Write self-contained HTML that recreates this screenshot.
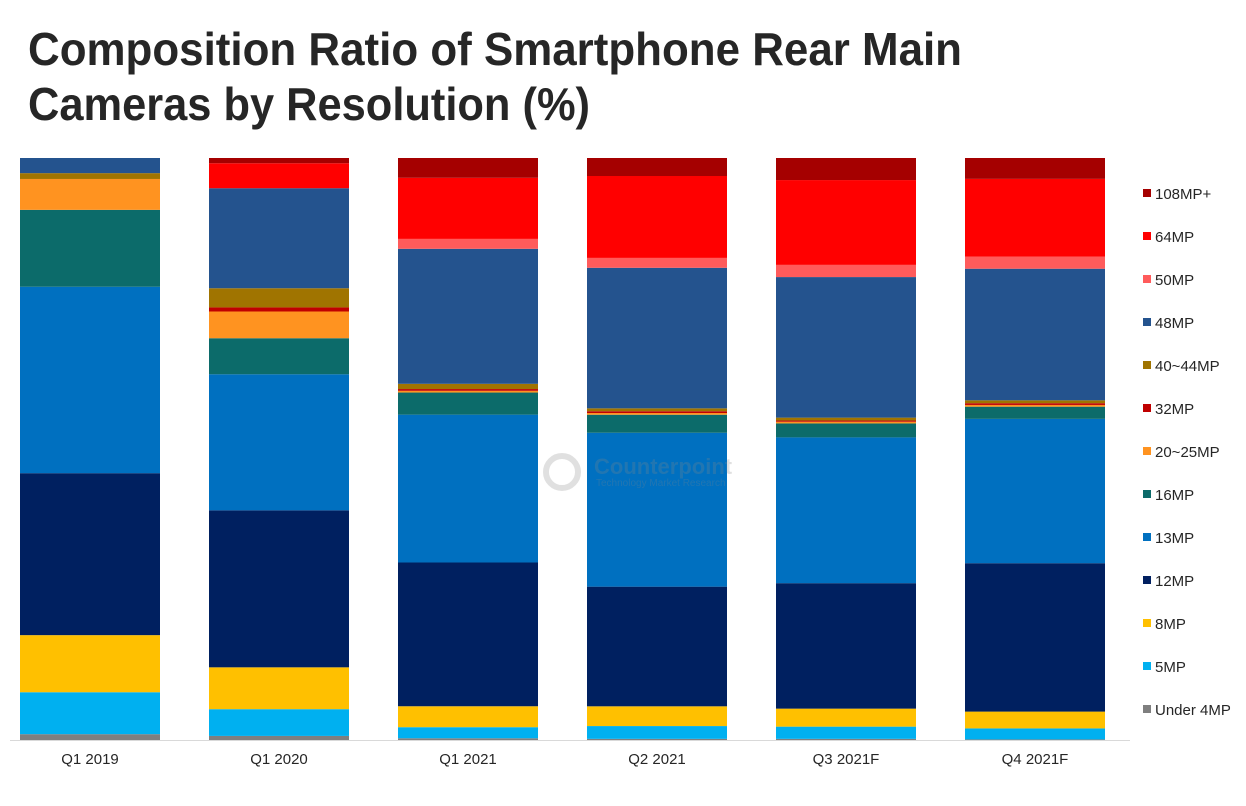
<!DOCTYPE html>
<html><head><meta charset="utf-8"><style>
html,body{margin:0;padding:0;background:#fff;}
svg{display:block;font-family:"Liberation Sans",Arial,sans-serif;}
</style></head><body>
<svg id="chart" width="1246" height="806" viewBox="0 0 1246 806">
<text x="28" y="65" font-size="46" font-weight="bold" fill="#262626" textLength="934" lengthAdjust="spacingAndGlyphs">Composition Ratio of Smartphone Rear Main</text>
<text x="28" y="120" font-size="46" font-weight="bold" fill="#262626" textLength="562" lengthAdjust="spacingAndGlyphs">Cameras by Resolution (%)</text>
<g id="bars"></g>
<line x1="10" y1="740.5" x2="1130" y2="740.5" stroke="#d9d9d9" stroke-width="1"/>
<g opacity="0.25">
<circle cx="562" cy="472" r="16" fill="none" stroke="#888" stroke-width="6"/>
<text x="594" y="474" font-size="22" font-weight="bold" fill="#888">Counterpoint</text>
<text x="596" y="486" font-size="10" fill="#888">Technology Market Research</text>
</g>
<g id="xlabels"></g>
<g id="legend"></g>
</svg>
<script>
const categories = ["Q1 2019","Q1 2020","Q1 2021","Q2 2021","Q3 2021F","Q4 2021F"];
const seriesNames = ["Under 4MP","5MP","8MP","12MP","13MP","16MP","20~25MP","32MP","40~44MP","48MP","50MP","64MP","108MP+"];
const under4 = [1.0,0.7,0.3,0.2,0.2,0.1];
const mp5 = [7.2,4.6,1.9,2.2,2.1,1.9];
const mp8 = [9.8,7.2,3.6,3.4,3.1,2.9];
const mp12 = [27.8,27.0,24.7,20.6,21.6,25.6];
const mp13 = [32.0,23.4,25.4,26.5,25.1,24.9];
const mp16 = [13.2,6.2,3.8,3.1,2.4,2.1];
const mp20 = [5.3,4.6,0.3,0.3,0.3,0.3];
const mp32 = [0,0.7,0.3,0.3,0.2,0.3];
const mp40 = [1.0,3.3,0.9,0.5,0.5,0.5];
const mp48 = [2.6,17.2,23.2,24.2,24.2,22.7];
const mp50 = [0,0,1.7,1.7,2.1,2.1];
const mp64 = [0,4.3,10.5,14.1,14.6,13.4];
const mp108 = [0,0.9,3.4,3.1,3.8,3.6];
const series = [under4,mp5,mp8,mp12,mp13,mp16,mp20,mp32,mp40,mp48,mp50,mp64,mp108];
const colors = ["#7f7f7f","#00b0f0","#ffc000","#002060","#0070c0","#0c6b6a","#ff9320","#c00000","#a07400","#24538e","#ff5b5b","#ff0000","#a50000"];

const NS="http://www.w3.org/2000/svg";
const plotTop=158, plotBottom=740, barW=140;
function xPos(i){return 20+i*189;}
function yScale(v){return plotBottom-(v/100)*(plotBottom-plotTop);}
const barsG=document.getElementById('bars');
categories.forEach((c,i)=>{
  let total=0; series.forEach(s=>total+=s[i]);
  let cum=0;
  series.forEach((s,k)=>{
    const v=s[i]/total*100;
    if(v<=0) return;
    const y1=yScale(cum), y2=yScale(cum+v);
    const r=document.createElementNS(NS,'rect');
    r.setAttribute('x',xPos(i)); r.setAttribute('y',y2);
    r.setAttribute('width',barW); r.setAttribute('height',y1-y2);
    r.setAttribute('fill',colors[k]);
    
    
    barsG.appendChild(r);
    cum+=v;
  });
  const t=document.createElementNS(NS,'text');
  t.setAttribute('x',xPos(i)+barW/2); t.setAttribute('y',764);
  t.setAttribute('text-anchor','middle'); t.setAttribute('font-size','15'); t.setAttribute('fill','#262626');
  t.textContent=c;
  
  
  document.getElementById('xlabels').appendChild(t);
});
const lg=document.getElementById('legend');
for(let k=seriesNames.length-1, row=0;k>=0;k--,row++){
  const y=194+row*43;
  const g=document.createElementNS(NS,'g');
  
  
  const r=document.createElementNS(NS,'rect');
  r.setAttribute('x',1143); r.setAttribute('y',y-5); r.setAttribute('width',8); r.setAttribute('height',8);
  r.setAttribute('fill',colors[k]);
  const t=document.createElementNS(NS,'text');
  t.setAttribute('x',1155); t.setAttribute('y',y+5); t.setAttribute('font-size','15'); t.setAttribute('fill','#262626');
  t.textContent=seriesNames[k];
  g.appendChild(r); g.appendChild(t); lg.appendChild(g);
}
</script>
</body></html>
